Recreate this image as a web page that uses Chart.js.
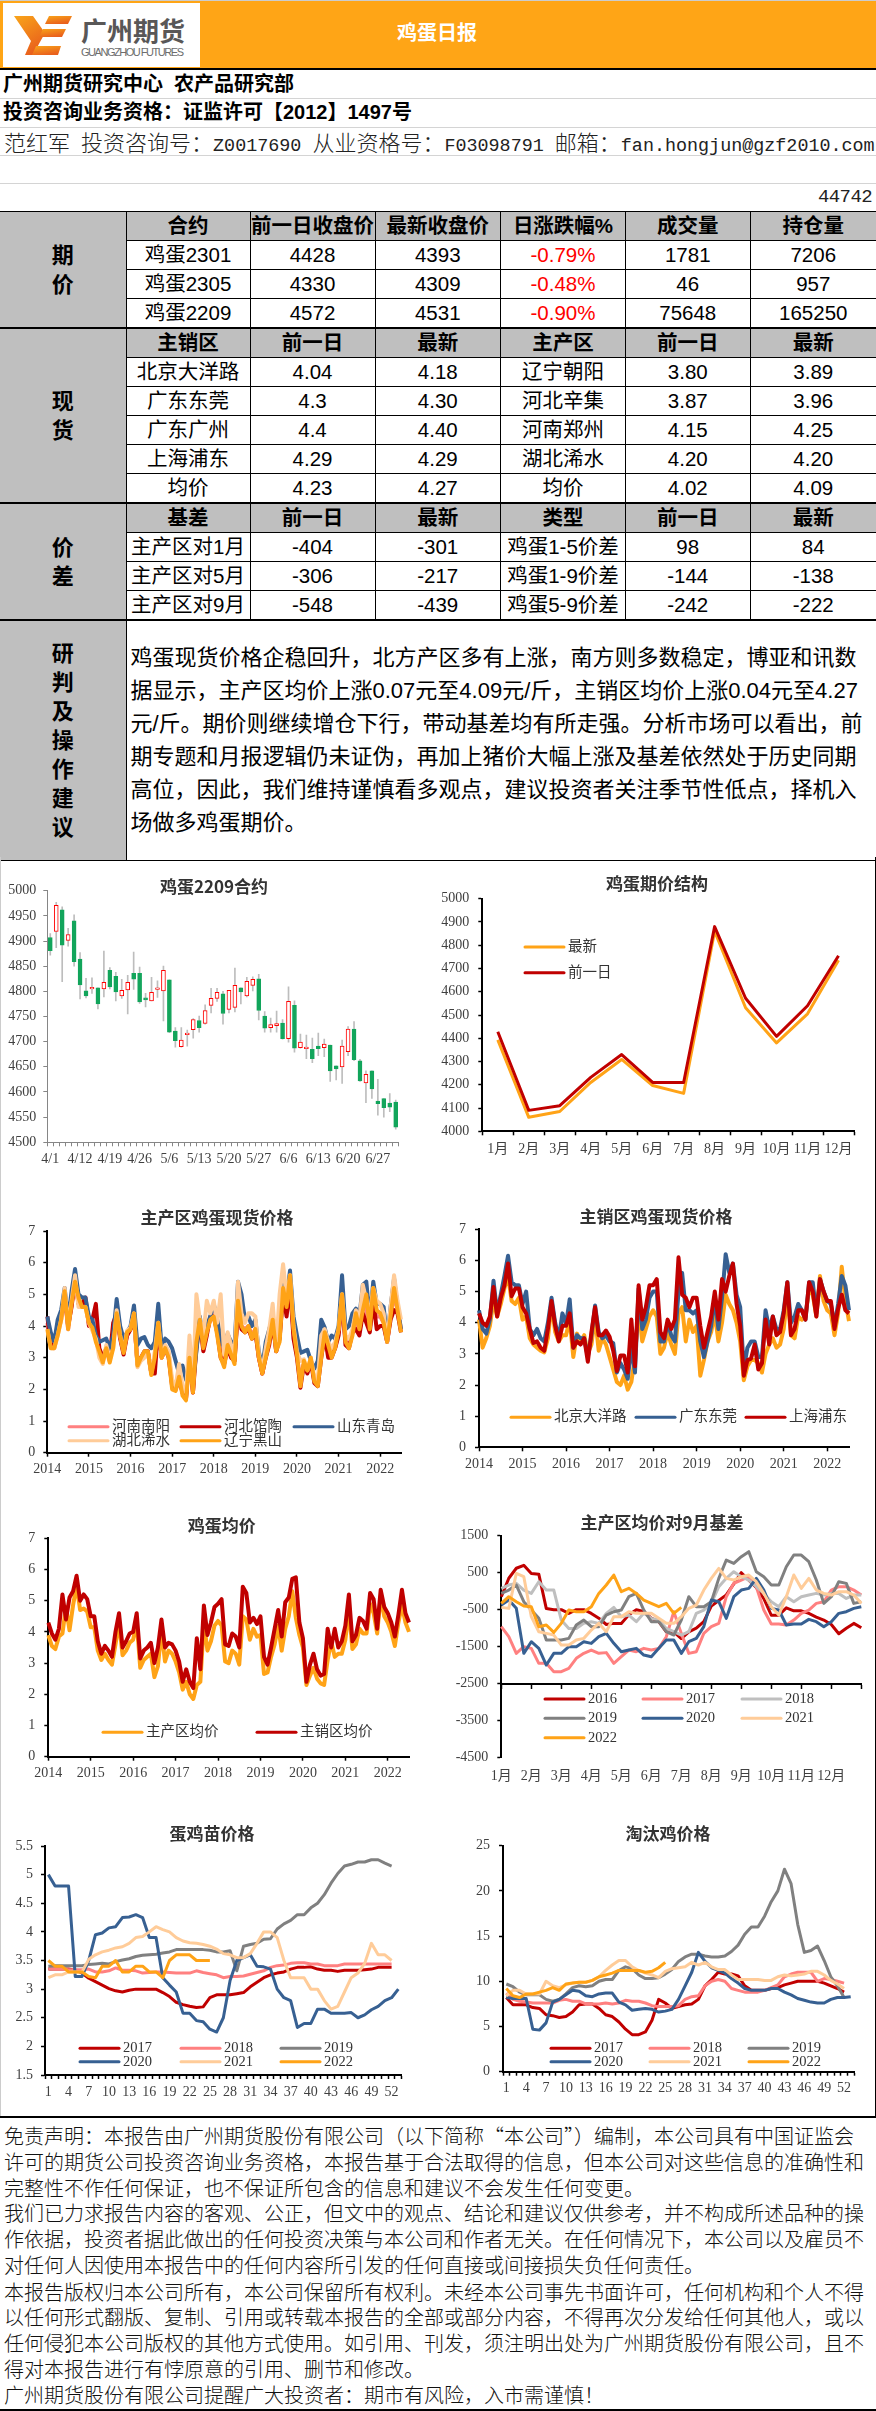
<!DOCTYPE html>
<html lang="zh-CN">
<head>
<meta charset="utf-8">
<title>鸡蛋日报</title>
<script src="https://cdn.jsdelivr.net/npm/chart.js@4"></script>
<style>
html,body{margin:0;padding:0;background:#fff;}
body{position:relative;width:876px;height:2411px;overflow:hidden;color:#000;font-family:'Liberation Sans','Noto Sans CJK SC',sans-serif;}
.abs{position:absolute;white-space:nowrap;}
.band{left:0;width:876px;height:70px;top:0;background:#FFA516;border-top:1px solid #ccc;box-sizing:border-box;border-bottom:2px solid #000;}
.logo{left:3px;top:3px;width:197px;height:64px;background:#fff;}
.rowline{left:0;width:876px;height:1px;background:#d4d4d4;}
.head{left:3px;font-size:20px;line-height:28px;font-weight:700;}
table{position:absolute;left:0;top:211px;width:876px;border-collapse:collapse;table-layout:fixed;font-size:20.5px;}
td{border:1px solid #000;height:29px;padding:0;text-align:center;box-sizing:border-box;line-height:28px;white-space:nowrap;overflow:hidden;}
tr td:first-child{border-left:none;}
tr td:last-child{border-right:none;}
td.g{background:#BFBFBF;font-weight:700;}
td.side{line-height:29px;font-size:22px;}
tr.sec td{border-top:2px solid #000;}
td.red{color:#f00;}
td.note{text-align:left;padding-left:4px;font-size:22px;line-height:33px;}
canvas{position:absolute;}
.legal{left:4px;font-size:20px;line-height:26px;font-family:'Noto Sans CJK SC',sans-serif;font-weight:300;color:#111;}
</style>
</head>
<body>
<div class="abs band"></div>
<div class="abs logo">
<svg width="197" height="64" viewBox="0 0 197 64">
<defs><linearGradient id="lg" x1="0" y1="0" x2="0.5" y2="1"><stop offset="0" stop-color="#F9A51A"/><stop offset="1" stop-color="#E9601C"/></linearGradient></defs>
<polygon fill="url(#lg)" points="11,13 30,13 42,30 37,39 30,52 22,52 28,38"/>
<polygon fill="url(#lg)" points="46,13 69,13 65,21 42,21"/>
<polygon fill="url(#lg)" points="40,26 63,26 59,34 36,34"/>
<polygon fill="url(#lg)" points="33,43 58,43 55,52 29,52"/>
<text x="78" y="38" font-size="26" font-weight="700" fill="#595757" font-family="Noto Sans CJK SC">广州期货</text>
<text x="78" y="53" font-size="11" fill="#6d6d6d" textLength="103" font-family="Liberation Sans">GUANGZHOU FUTURES</text>
</svg>
</div>
<div class="abs" style="left:397px;top:19px;font-size:20px;line-height:28px;font-weight:700;color:#fff;">鸡蛋日报</div>
<div class="abs head" style="top:70px;">广州期货研究中心&nbsp; 农产品研究部</div>
<div class="abs rowline" style="top:98px;"></div>
<div class="abs head" style="top:98px;">投资咨询业务资格：证监许可【2012】1497号</div>
<div class="abs rowline" style="top:127px;"></div>
<div class="abs" style="left:4px;top:127px;font-size:22px;line-height:28px;color:#222;font-weight:300;font-family:'Noto Sans CJK SC',sans-serif;">范红军<span style="font:18.4px 'Liberation Mono'"> </span>投资咨询号：<span style="font:18.4px 'Liberation Mono'">Z0017690 </span>从业资格号：<span style="font:18.4px 'Liberation Mono'">F03098791 </span>邮箱：<span style="font:18.4px 'Liberation Mono'">fan.hongjun@gzf2010.com</span></div>
<div class="abs rowline" style="top:155px;"></div>
<div class="abs rowline" style="top:183px;"></div>
<div class="abs" style="right:4px;top:184px;font:19px/27px 'Liberation Mono';letter-spacing:-0.6px;color:#222;">44742</div>

<table>
<colgroup><col style="width:126px"><col style="width:124px"><col style="width:125px"><col style="width:125.5px"><col style="width:125px"><col style="width:124.5px"><col style="width:126px"></colgroup>
<tr><td class="g side" rowspan="4">期<br>价</td><td class="g">合约</td><td class="g">前一日收盘价</td><td class="g">最新收盘价</td><td class="g">日涨跌幅%</td><td class="g">成交量</td><td class="g">持仓量</td></tr>
<tr><td>鸡蛋2301</td><td>4428</td><td>4393</td><td class="red">-0.79%</td><td>1781</td><td>7206</td></tr>
<tr><td>鸡蛋2305</td><td>4330</td><td>4309</td><td class="red">-0.48%</td><td>46</td><td>957</td></tr>
<tr><td>鸡蛋2209</td><td>4572</td><td>4531</td><td class="red">-0.90%</td><td>75648</td><td>165250</td></tr>
<tr class="sec"><td class="g side" rowspan="6">现<br>货</td><td class="g">主销区</td><td class="g">前一日</td><td class="g">最新</td><td class="g">主产区</td><td class="g">前一日</td><td class="g">最新</td></tr>
<tr><td>北京大洋路</td><td>4.04</td><td>4.18</td><td>辽宁朝阳</td><td>3.80</td><td>3.89</td></tr>
<tr><td>广东东莞</td><td>4.3</td><td>4.30</td><td>河北辛集</td><td>3.87</td><td>3.96</td></tr>
<tr><td>广东广州</td><td>4.4</td><td>4.40</td><td>河南郑州</td><td>4.15</td><td>4.25</td></tr>
<tr><td>上海浦东</td><td>4.29</td><td>4.29</td><td>湖北浠水</td><td>4.20</td><td>4.20</td></tr>
<tr><td>均价</td><td>4.23</td><td>4.27</td><td>均价</td><td>4.02</td><td>4.09</td></tr>
<tr class="sec"><td class="g side" rowspan="4">价<br>差</td><td class="g">基差</td><td class="g">前一日</td><td class="g">最新</td><td class="g">类型</td><td class="g">前一日</td><td class="g">最新</td></tr>
<tr><td>主产区对1月</td><td>-404</td><td>-301</td><td>鸡蛋1-5价差</td><td>98</td><td>84</td></tr>
<tr><td>主产区对5月</td><td>-306</td><td>-217</td><td>鸡蛋1-9价差</td><td>-144</td><td>-138</td></tr>
<tr><td>主产区对9月</td><td>-548</td><td>-439</td><td>鸡蛋5-9价差</td><td>-242</td><td>-222</td></tr>
<tr class="sec"><td class="g side" style="height:240px;">研<br>判<br>及<br>操<br>作<br>建<br>议</td><td class="note" colspan="6">鸡蛋现货价格企稳回升，北方产区多有上涨，南方则多数稳定，博亚和讯数<br>据显示，主产区均价上涨0.07元至4.09元/斤，主销区均价上涨0.04元至4.27<br>元/斤。期价则继续增仓下行，带动基差均有所走强。分析市场可以看出，前<br>期专题和月报逻辑仍未证伪，再加上猪价大幅上涨及基差依然处于历史同期<br>高位，因此，我们维持谨慎看多观点，建议投资者关注季节性低点，择机入<br>场做多鸡蛋期价。</td></tr>
</table>

<canvas id="c1"></canvas><canvas id="c2"></canvas><canvas id="c3"></canvas><canvas id="c4"></canvas>
<canvas id="c5"></canvas><canvas id="c6"></canvas><canvas id="c7"></canvas><canvas id="c8"></canvas>

<div class="abs" style="left:875px;top:857px;width:1px;height:1260px;background:#000;"></div>
<div class="abs" style="left:0;top:857px;width:1px;height:1260px;background:#ccc;"></div>
<div class="abs" style="left:0;top:2116px;width:876px;height:2px;background:#000;"></div>
<div class="abs legal" style="top:2123px;">免责声明：本报告由广州期货股份有限公司（以下简称“本公司”）编制，本公司具有中国证监会</div>
<div class="abs legal" style="top:2149px;">许可的期货公司投资咨询业务资格，本报告基于合法取得的信息，但本公司对这些信息的准确性和</div>
<div class="abs legal" style="top:2175px;">完整性不作任何保证，也不保证所包含的信息和建议不会发生任何变更。</div>
<div class="abs legal" style="top:2200px;">我们已力求报告内容的客观、公正，但文中的观点、结论和建议仅供参考，并不构成所述品种的操</div>
<div class="abs legal" style="top:2226px;">作依据，投资者据此做出的任何投资决策与本公司和作者无关。在任何情况下，本公司以及雇员不</div>
<div class="abs legal" style="top:2252px;">对任何人因使用本报告中的任何内容所引发的任何直接或间接损失负任何责任。</div>
<div class="abs legal" style="top:2279px;">本报告版权归本公司所有，本公司保留所有权利。未经本公司事先书面许可，任何机构和个人不得</div>
<div class="abs legal" style="top:2304px;">以任何形式翻版、复制、引用或转载本报告的全部或部分内容，不得再次分发给任何其他人，或以</div>
<div class="abs legal" style="top:2330px;">任何侵犯本公司版权的其他方式使用。如引用、刊发，须注明出处为广州期货股份有限公司，且不</div>
<div class="abs legal" style="top:2356px;">得对本报告进行有悖原意的引用、删节和修改。</div>
<div class="abs legal" style="top:2382px;">广州期货股份有限公司提醒广大投资者：期市有风险，入市需谨慎！</div>
<div class="abs" style="left:0;top:2409px;width:876px;height:2px;background:#000;"></div>

<script>
// 鸡蛋2209合约 K线
const candleDates = ['4/1','4/6','4/7','4/8','4/11','4/12','4/13','4/14','4/15','4/18','4/19','4/20','4/21','4/22','4/25','4/26','4/27','4/28','4/29','5/5','5/6','5/9','5/10','5/11','5/12','5/13','5/16','5/17','5/18','5/19','5/20','5/23','5/24','5/25','5/26','5/27','5/30','5/31','6/1','6/2','6/6','6/7','6/8','6/9','6/10','6/13','6/14','6/15','6/16','6/17','6/20','6/21','6/22','6/23','6/24','6/27','6/28','6/29','6/30'];
const candleOpen = [4907,4919,4962,4901,4940,4864,4801,4805,4807,4805,4842,4830,4791,4803,4836,4836,4787,4781,4804,4801,4823,4721,4690,4714,4724,4742,4736,4772,4786,4795,4764,4768,4807,4791,4812,4825,4751,4728,4732,4737,4706,4772,4688,4686,4685,4691,4688,4693,4652,4650,4680,4725,4662,4618,4642,4582,4587,4578,4580];
const candleClose = [4881,4971,4892,4913,4859,4813,4791,4808,4775,4818,4809,4799,4802,4818,4824,4779,4783,4798,4807,4842,4719,4702,4703,4717,4744,4728,4762,4786,4798,4756,4802,4812,4799,4820,4824,4762,4727,4734,4736,4706,4780,4687,4699,4689,4666,4686,4695,4642,4646,4691,4725,4664,4622,4635,4606,4577,4569,4570,4530];
const candleHigh = [4915,4977,4968,4925,4952,4877,4826,4827,4807,4880,4847,4838,4824,4832,4878,4848,4796,4828,4821,4850,4823,4728,4728,4723,4746,4751,4773,4806,4806,4800,4802,4846,4807,4828,4829,4834,4760,4747,4761,4744,4809,4781,4715,4713,4707,4717,4705,4693,4652,4703,4730,4740,4665,4642,4642,4625,4587,4597,4584];
const candleLow = [4872,4887,4819,4890,4850,4785,4787,4796,4765,4789,4805,4781,4786,4755,4804,4776,4769,4781,4788,4741,4718,4689,4689,4691,4707,4719,4735,4757,4780,4735,4757,4759,4775,4789,4801,4743,4719,4719,4719,4705,4699,4679,4687,4666,4658,4672,4670,4621,4624,4617,4672,4662,4621,4579,4587,4554,4550,4561,4526];

// 鸡蛋期价结构
const curveMonths = ['1月','2月','3月','4月','5月','6月','7月','8月','9月','10月','11月','12月'];
const curveLatest = [4393,4060,4085,4210,4309,4197,4163,4860,4531,4380,4505,4735];
const curvePrev = [4428,4090,4110,4232,4330,4210,4210,4880,4572,4408,4540,4755];

// 现货价格 月度横轴 2014-01 ~ 2022-07
const spotYears = ['2014','2015','2016','2017','2018','2019','2020','2021','2022'];
const spotAxis = spotYears.flatMap(y => Array(12).fill(y)).slice(0, 103);

// 主产区鸡蛋现货价格
const henanNanyang = [
 4.1,3.4,3.3,3.8,4.2,5.0,3.9,4.7,5.4,4.7,4.6,4.7,
 4.1,4.0,3.6,3.2,2.9,3.3,2.9,3.6,4.4,3.7,3.2,3.7,
 3.9,4.3,2.8,3.0,3.1,3.2,2.5,2.9,4.0,3.0,3.3,3.1,
 2.2,2.0,2.4,1.9,1.7,3.2,1.9,3.6,4.1,3.4,3.8,4.2,
 4.4,3.9,3.2,2.9,3.5,3.1,2.9,4.7,4.0,3.9,4.0,3.7,
 3.9,3.0,2.5,3.1,3.6,4.2,3.2,3.7,5.1,4.5,5.4,3.8,
 3.1,2.2,2.8,2.6,2.9,2.3,2.2,3.2,3.7,3.2,3.1,3.3,
 3.8,4.9,3.5,3.4,3.8,4.2,3.8,4.6,4.5,3.9,5.0,4.3,
 4.3,4.1,3.5,4.3,5.0,4.5,3.9];
const hebeiGuantao = [
 4.3,3.4,3.4,3.9,4.3,5.0,4.0,4.6,5.5,4.7,4.7,4.9,
 4.0,4.2,4.7,3.3,3.0,3.3,3.0,4.1,4.4,3.6,3.1,3.7,
 3.9,4.3,2.8,3.0,3.2,3.2,2.5,2.5,4.0,3.0,3.3,3.0,
 2.1,2.0,2.3,1.9,1.7,3.1,1.9,3.3,4.1,3.2,3.7,4.3,
 4.3,3.8,3.0,2.8,3.3,3.0,2.9,4.5,3.9,3.8,3.9,3.6,
 3.8,3.0,2.5,3.0,3.4,4.1,3.2,3.6,5.0,4.3,5.3,3.6,
 3.0,2.05,2.8,2.5,2.9,2.2,2.1,3.0,3.7,3.0,3.0,3.3,
 3.7,4.9,3.4,3.3,3.8,3.9,3.7,4.4,4.1,3.8,4.8,3.9,
 4.0,4.0,3.5,4.2,4.5,4.4,3.8];
const shandongQingdao = [
 4.3,3.8,3.5,4.2,4.5,5.2,4.2,5.1,5.8,5.0,4.9,4.9,
 4.3,4.2,3.7,3.5,3.55,3.6,3.3,3.7,4.85,4.0,3.6,3.8,
 4.0,4.65,3.4,3.6,3.65,3.4,3.3,3.5,4.7,3.3,3.6,3.5,
 3.3,2.9,2.5,2.75,2.3,2.5,2.2,3.2,4.3,3.4,4.0,4.3,
 4.7,4.2,3.6,3.3,3.75,3.5,3.4,5.4,5.0,4.2,4.3,4.0,
 4.2,3.2,2.7,3.5,3.9,4.3,3.6,4.0,5.4,4.9,5.75,4.3,
 3.7,3.15,3.2,3.25,2.9,2.65,2.9,4.2,3.95,3.5,3.7,3.6,
 4.0,5.6,3.9,4.0,4.4,4.55,4.3,5.3,5.4,4.2,5.4,4.7,
 4.7,4.6,3.6,4.6,5.5,4.6,3.9];
const hubeiXishui = [
 3.9,3.3,3.3,3.7,4.2,5.2,4.0,4.8,5.6,4.6,4.6,4.6,
 4.1,3.85,3.6,3.0,2.8,3.4,3.0,3.3,4.5,3.7,3.2,3.85,
 3.95,4.4,2.7,2.9,3.0,3.15,2.5,3.2,4.1,3.0,3.4,3.2,
 2.3,2.1,2.8,2.1,1.9,3.7,2.1,5.0,4.2,3.7,4.8,4.4,
 4.8,4.1,5.0,3.1,3.8,3.4,3.1,5.4,4.4,4.1,4.4,4.4,
 4.3,3.1,2.6,3.3,3.9,4.7,3.3,5.0,5.95,4.9,5.6,4.0,
 3.2,2.9,2.95,2.6,3.0,2.4,2.3,3.7,3.9,3.5,3.3,3.5,
 3.9,5.0,3.7,3.6,3.9,4.5,4.2,5.3,4.8,4.4,5.2,4.8,
 4.7,4.4,3.5,4.6,5.6,4.8,4.2];
const liaoningHeishan = [
 3.9,3.3,3.3,3.7,4.2,5.1,3.9,4.7,5.4,4.9,4.6,4.6,
 4.1,3.95,3.5,3.2,2.85,3.3,2.85,3.3,4.4,3.7,3.15,3.8,
 3.9,4.4,2.75,3.0,3.2,3.2,2.45,3.0,4.1,3.0,3.3,3.0,
 2.0,1.95,2.4,1.8,1.65,3.0,1.9,3.5,4.2,3.3,3.8,4.2,
 4.3,3.7,3.0,2.7,3.4,3.1,2.8,4.8,4.0,3.8,4.0,3.6,
 3.9,3.0,2.5,3.0,3.5,4.2,3.2,3.5,5.2,4.6,5.6,3.9,
 3.1,2.1,2.9,2.6,3.0,2.25,2.1,3.0,3.8,3.4,3.0,3.3,
 3.9,5.0,3.5,3.3,3.7,4.4,3.9,4.5,5.0,3.9,5.2,4.5,
 4.4,4.1,3.5,4.3,5.2,4.5,3.8];

// 主销区鸡蛋现货价格
const beijingDayanglu = [
 4.1,3.2,3.5,3.9,4.7,4.2,4.6,5.1,5.5,4.7,4.6,4.8,
 4.1,4.2,3.5,3.3,3.2,3.1,3.05,3.5,4.6,3.7,3.4,3.6,
 3.6,4.1,2.9,3.65,3.4,3.6,3.0,3.3,4.2,3.1,3.5,3.3,
 2.9,2.5,2.1,2.0,2.3,1.85,2.1,2.9,4.5,3.4,3.8,4.2,
 4.4,4.2,3.0,3.2,3.7,3.3,3.0,4.3,4.5,3.4,4.1,3.7,
 3.9,2.3,2.8,3.4,3.7,4.3,3.4,4.0,4.9,4.6,4.4,4.0,
 3.4,2.15,2.6,2.8,2.8,2.7,2.4,3.0,3.3,3.5,3.2,3.3,
 3.8,4.9,3.6,3.5,4.2,4.1,4.2,5.1,4.9,4.2,5.5,4.7,
 4.4,4.3,3.6,4.3,5.8,4.7,4.05];
const guangdongDongguan = [
 4.4,3.8,3.65,4.1,5.35,4.3,4.9,5.5,6.15,5.3,5.2,5.2,
 4.6,5.0,3.8,3.6,3.8,3.5,3.4,4.0,4.8,4.0,3.5,4.3,
 3.95,4.75,3.2,3.6,3.5,3.5,2.9,3.6,4.55,3.7,3.5,3.6,
 3.4,3.35,2.4,2.7,2.5,2.2,3.2,2.4,5.1,3.8,4.1,4.8,
 5.0,5.0,3.4,3.4,4.0,3.6,3.4,5.0,5.6,4.4,4.4,4.3,
 4.4,3.4,2.9,3.4,3.9,4.8,3.8,4.8,6.2,5.6,5.9,4.9,
 4.5,2.5,3.2,3.4,3.4,2.9,2.9,4.4,3.8,4.2,3.8,3.8,
 4.4,5.3,4.0,4.2,4.6,4.4,4.1,5.3,5.3,4.3,5.4,5.0,
 4.7,4.6,3.9,4.6,5.5,5.2,4.4];
const shanghaiPudong = [
 4.3,4.0,3.9,4.2,5.15,4.2,4.8,5.2,5.9,4.85,5.1,5.1,
 4.5,4.3,3.8,3.35,3.4,3.2,3.1,3.8,4.7,3.9,3.4,3.9,
 3.9,4.3,3.2,3.4,3.3,3.5,2.75,3.7,4.5,3.6,3.6,3.75,
 3.55,3.1,2.45,2.95,2.95,2.4,4.1,2.6,5.2,4.1,4.5,5.2,
 5.2,5.4,3.7,3.5,4.1,3.8,4.1,6.1,4.9,4.8,4.5,4.8,
 4.8,3.9,3.2,3.7,4.2,5.0,4.1,5.4,5.0,5.5,5.9,4.6,
 3.9,2.3,2.8,2.85,3.3,2.5,2.7,4.1,3.3,4.2,3.6,3.7,
 4.3,5.3,3.6,3.8,4.4,4.4,4.1,5.3,5.0,4.2,5.4,5.0,
 4.7,4.7,3.8,4.45,4.9,4.4,4.3];

// 鸡蛋均价
const producerAvg = [
 3.9,3.55,3.45,3.85,3.95,4.8,4.05,4.85,5.5,4.7,4.75,4.65,
 4.15,4.15,3.4,3.1,3.3,3.1,2.95,3.6,4.3,3.25,3.4,3.65,
 3.75,4.3,2.85,3.1,3.2,3.3,2.55,2.9,4.05,3.05,3.4,3.3,
 3.05,2.7,2.15,2.4,2.0,1.85,2.3,2.4,4.3,3.4,3.7,4.2,
 4.35,4.2,3.05,3.0,3.4,3.3,2.95,4.5,4.4,3.75,4.1,3.85,
 3.9,2.65,2.7,3.2,3.6,4.2,3.4,4.1,4.5,5.3,4.45,3.9,
 3.5,2.3,2.6,2.85,2.5,2.35,2.3,3.1,3.7,3.2,3.3,3.3,
 3.75,4.7,3.45,3.6,4.1,3.95,3.95,4.9,4.6,3.95,5.15,4.5,
 4.3,4.0,3.55,4.3,4.85,4.3,4.0];
const consumerAvg = [
 4.3,3.95,3.75,4.1,5.2,4.4,5.1,5.3,5.8,5.0,5.2,5.05,
 4.5,4.5,3.7,3.3,3.55,3.4,3.2,4.0,4.6,3.5,3.7,3.95,
 4.0,4.6,3.15,3.4,3.5,3.65,3.0,3.5,4.4,3.5,3.65,3.6,
 3.4,3.05,2.4,2.8,2.4,2.2,3.8,2.8,4.85,3.9,4.3,4.8,
 4.9,5.05,3.6,3.55,3.95,3.85,3.5,5.45,5.25,4.3,4.45,4.25,
 4.5,3.2,2.95,3.5,4.1,4.7,3.85,4.95,5.1,5.7,5.75,4.3,
 3.8,2.4,2.95,3.3,2.8,2.6,2.65,4.1,3.5,4.1,3.5,3.7,
 4.2,5.2,3.7,3.9,4.45,4.35,4.1,5.25,5.05,4.1,5.35,4.8,
 4.6,4.3,3.85,4.55,5.35,4.6,4.3];

// 主产区均价对9月基差
const basisAxis = ['1月','','','','2月','','','','3月','','','','4月','','','','5月','','','','6月','','','','7月','','','','8月','','','','9月','','','','10月','','','','11月','','','','12月','','','',''];
const basis2016 = [-150,350,620,700,480,460,-470,-500,-500,-600,-500,-500,-600,-730,-900,-870,-870,-640,-500,-550,-730,-820,-1100,-1100,-1280,-1100,-1000,-820,-400,-250,-100,200,500,300,100,-200,-650,-650,-450,-530,-530,-600,-700,-780,-900,-1150,-1000,-870,-990];
const basis2017 = [-960,-1230,-1680,-1500,-1545,-1950,-1950,-2175,-2175,-2085,-1815,-1680,-1590,-1680,-1660,-1950,-1770,-1590,-1635,-1545,-1590,-1545,-1230,-554,-1140,-1680,-1635,-1140,-959,-869,-149,212,302,392,122,-509,-887,-887,-914,-779,-599,-509,-329,-284,31,122,122,31,-104];
const basis2018 = [77,167,212,31,-59,257,31,31,-779,-1005,-1005,-869,-824,-869,-599,-437,-689,-644,-824,-599,-734,-779,-1005,-1095,-1185,-1095,-599,-509,-329,122,347,527,392,302,122,-59,-284,-419,-149,-284,-149,-104,-59,-104,-59,-59,-194,-104,-104];
const basis2019 = [-59,31,167,-284,-509,-734,-1320,-1320,-1320,-1275,-914,-779,-959,-959,-644,-554,-509,-149,-59,-509,-824,-824,-1095,-1185,-779,-149,-419,-419,-284,347,842,752,932,1068,527,392,167,167,662,977,977,797,302,-329,-149,257,212,-329,-284];
const basis2020 = [-374,-239,-464,-1680,-1365,-1545,-1995,-1680,-1680,-1500,-1500,-1365,-1410,-1230,-1140,-1410,-1635,-1590,-1545,-1725,-1770,-1545,-1320,-1320,-1680,-1365,-1275,-959,-239,-284,-734,-149,31,77,347,31,-464,-509,-914,-887,-887,-761,-824,-959,-824,-599,-554,-464,-419];
const basis2021 = [-437,-464,482,392,-689,-1095,-1140,-1185,-1455,-1455,-1320,-1275,-1050,-869,-1095,-689,-689,-554,-599,-599,-599,-734,-869,-869,-689,-464,-374,31,347,617,347,302,392,437,257,-59,-419,-644,-149,437,77,347,31,-59,-104,-14,-14,-104,-329];
const basis2022 = [-329,-149,-284,-401,-419,-959,-914,-1113,-869,-509,-554,-554,-419,-59,167,437,-14,77,-59,-239,-329,-419,-329,-599,-437];

// 周度横轴 1~53
const weekAxis = ['1','2','3','4','5','6','7','8','9','10','11','12','13','14','15','16','17','18','19','20','21','22','23','24','25','26','27','28','29','30','31','32','33','34','35','36','37','38','39','40','41','42','43','44','45','46','47','48','49','50','51','52','53'];

// 蛋鸡苗价格
const chick2017 = [3.35,3.35,3.35,3.35,3.33,3.28,3.19,3.13,3.07,3.01,2.97,2.95,2.98,3.0,3.0,3.0,3.0,2.94,2.87,2.77,2.73,2.7,2.68,2.69,2.85,2.9,2.9,2.9,2.92,2.94,3.04,3.12,3.2,3.25,3.28,3.3,3.35,3.38,3.38,3.39,3.35,3.33,3.33,3.31,3.33,3.33,3.33,3.34,3.35,3.38,3.38,3.38];
const chick2018 = [3.36,3.35,3.35,3.34,3.34,3.34,3.35,3.3,3.3,3.32,3.37,3.33,3.33,3.32,3.28,3.29,3.3,3.3,3.29,3.28,3.28,3.28,3.32,3.29,3.27,3.25,3.2,3.22,3.22,3.23,3.26,3.29,3.32,3.38,3.41,3.42,3.45,3.46,3.46,3.44,3.44,3.41,3.41,3.41,3.44,3.44,3.44,3.44,3.44,3.44,3.44,3.44];
const chick2019 = [3.4,3.41,3.41,3.41,3.41,3.41,3.43,3.44,3.45,3.44,3.48,3.51,3.53,3.57,3.59,3.6,3.61,3.63,3.65,3.69,3.69,3.69,3.69,3.69,3.68,3.65,3.65,3.67,3.32,3.75,3.78,3.8,3.87,3.88,4.05,4.14,4.2,4.3,4.3,4.42,4.5,4.65,4.85,5.02,5.15,5.18,5.22,5.22,5.26,5.26,5.2,5.15];
const chick2020 = [5.0,4.8,4.8,4.8,3.22,3.22,3.5,3.95,3.98,4.07,4.09,4.25,4.26,4.3,4.25,3.9,3.9,3.2,3.07,2.95,2.58,2.58,2.45,2.43,2.3,2.25,2.5,3.15,3.5,3.55,3.6,3.4,3.39,3.35,3.0,2.85,2.8,2.33,2.4,2.4,2.65,2.65,2.58,2.58,2.58,2.59,2.5,2.55,2.64,2.7,2.8,2.85,3.0];
const chick2021 = [3.2,3.25,3.25,3.3,3.3,3.3,3.52,3.6,3.65,3.68,3.72,3.74,3.8,3.9,3.92,4.0,4.09,4.04,4.0,3.9,3.84,3.81,3.8,3.78,3.75,3.7,3.62,3.6,3.55,3.55,3.62,3.8,4.0,4.0,3.9,3.5,3.2,3.2,3.2,3.0,3.0,2.8,2.65,2.7,2.95,3.2,3.28,3.45,3.8,3.6,3.6,3.5];
const chick2022 = [3.5,3.4,3.4,3.3,3.3,3.3,3.22,3.2,3.4,3.4,3.5,3.3,3.3,3.4,3.4,3.3,3.3,3.2,3.5,3.6,3.6,3.6,3.5,3.5,3.5];

// 淘汰鸡价格
const hen2017 = [8.2,7.4,7.4,7.4,7.1,7.0,6.3,6.2,6.0,6.1,6.6,7.4,7.5,7.5,7.0,6.3,6.1,5.5,4.7,4.1,4.1,4.4,5.7,8.0,7.6,7.0,7.2,7.4,7.5,8.0,9.5,10.2,11.0,10.8,10.8,10.6,9.5,9.0,9.0,9.0,9.2,9.3,9.6,9.8,10.0,10.0,10.0,10.0,9.8,9.5,9.2,8.8];
const hen2018 = [8.7,8.0,7.8,7.7,7.6,7.6,7.6,7.6,7.9,8.0,7.8,7.8,7.5,7.5,7.5,7.6,7.5,7.6,7.9,7.8,7.8,7.6,7.3,7.2,7.2,7.2,7.3,8.0,8.3,8.4,9.5,10.0,10.2,10.0,9.2,9.0,8.8,8.8,8.8,9.0,9.3,9.6,10.5,10.8,11.0,11.0,11.0,10.0,10.3,10.2,10.0,9.8];
const hen2019 = [9.7,9.4,8.8,8.5,8.5,8.5,8.0,7.8,8.0,8.6,9.3,9.5,9.4,9.5,10.0,10.2,10.2,11.2,11.6,11.4,10.7,10.3,10.3,10.4,10.8,11.3,12.2,12.7,13.0,13.0,12.8,12.7,12.7,12.8,13.3,14.0,15.2,16.0,16.0,17.2,18.8,20.0,22.4,20.8,16.3,13.2,13.4,13.9,12.3,10.5,9.5,8.2];
const hen2020 = [8.2,8.1,8.1,8.1,4.7,4.6,5.4,7.7,8.0,8.5,9.0,8.9,8.4,8.3,8.6,8.7,8.7,7.7,7.4,6.8,6.9,7.0,6.9,6.6,6.7,6.9,8.0,9.5,11.0,13.2,12.2,11.5,11.2,10.9,10.3,9.8,9.2,9.0,9.0,9.0,9.2,9.2,8.8,8.5,8.1,7.9,7.7,7.6,7.6,8.0,8.2,8.2,8.3];
const hen2021 = [8.4,9.0,9.0,8.6,8.6,8.6,10.0,9.5,9.3,9.6,9.8,9.9,9.9,10.1,10.5,11.2,11.8,12.3,12.3,11.6,11.2,10.9,10.7,10.4,11.1,11.4,11.5,11.6,12.1,11.8,12.1,11.6,11.3,11.3,10.7,10.2,10.2,10.2,10.2,10.1,10.1,10.5,10.7,10.6,10.7,10.8,11.1,11.1,10.7,10.1,9.7,9.2];
const hen2022 = [9.2,8.4,8.2,8.6,8.6,8.8,9.0,9.3,9.0,9.7,9.8,9.9,9.9,10.1,10.5,10.7,10.9,11.2,11.2,11.2,11.2,11.0,11.1,11.5,12.1];

const RED = '#C00000', ORANGE = '#FFA317', BLUE = '#376092', PINK = '#FF8080', PEACH = '#FFCC99', GREY = '#808080', LIGHT = '#BFBFBF';
const serif = "'Liberation Serif','Noto Sans CJK SC',serif";
const labelFont = { family: serif, size: 14 };

// 标题和图例都画在canvas里，位置按页面坐标给
const overlay = {
  id: 'overlay',
  afterDraw(chart, args, opts) {
    const ctx = chart.ctx;
    ctx.save();
    ctx.fillStyle = '#333';
    ctx.font = "700 17px 'Noto Sans CJK SC'";
    ctx.textAlign = 'center';
    ctx.textBaseline = 'middle';
    ctx.fillText(opts.title, opts.titleX - opts.ox, opts.titleY - opts.oy);
    ctx.textAlign = 'left';
    ctx.font = "14.5px " + serif;
    ctx.lineWidth = 3;
    ctx.lineCap = 'round';
    opts.items.forEach(it => {
      const x = it.x - opts.ox, y = it.y - opts.oy;
      ctx.strokeStyle = it.color;
      ctx.beginPath();
      ctx.moveTo(x, y);
      ctx.lineTo(x + 39, y);
      ctx.stroke();
      ctx.fillStyle = '#333';
      ctx.fillText(it.label, x + 43, y);
    });
    ctx.restore();
  }
};
Chart.register(overlay);

function lineSet(label, data, color, order, width) {
  return { label, data, borderColor: color, backgroundColor: color, borderWidth: width || 3, pointRadius: 0, tension: 0, fill: false, order, borderJoinStyle: 'round', spanGaps: false };
}

function baseOptions(cfg) {
  const { box, plot } = cfg;
  const axisColor = cfg.axisColor || '#000';
  const axisWidth = cfg.axisWidth || 2;
  const xScale = {
    type: 'category',
    offset: !!cfg.offset,
    border: { color: axisColor, width: axisWidth },
    grid: { drawOnChartArea: false, drawTicks: true, tickLength: 4, tickColor: axisColor, tickWidth: axisWidth > 1.5 ? 1.5 : 1, offset: !!cfg.offset },
    ticks: { font: labelFont, color: '#404040', padding: cfg.xPad, maxRotation: 0, autoSkip: false },
    afterFit: a => { a.height = box.y + box.h - plot.b; }
  };
  if (cfg.tickStep) xScale.afterBuildTicks = a => { a.ticks = a.ticks.filter(t => t.value % cfg.tickStep === 0); };
  if (cfg.labelStep) xScale.ticks.callback = function (v, i) { return i % cfg.labelStep === 0 ? this.getLabelForValue(v) : ''; };
  return {
    responsive: false,
    animation: false,
    layout: { padding: { top: plot.t - box.y, right: box.x + box.w - plot.r, bottom: 0, left: 0 } },
    plugins: {
      legend: { display: false },
      tooltip: { enabled: false },
      overlay: { title: cfg.title, titleX: cfg.titleX, titleY: cfg.titleY, items: cfg.items || [], ox: box.x, oy: box.y }
    },
    scales: {
      x: xScale,
      y: {
        min: cfg.yMin, max: cfg.yMax,
        border: { color: axisColor, width: axisWidth },
        grid: { drawOnChartArea: false, drawTicks: true, tickLength: 4, tickColor: axisColor, tickWidth: axisWidth > 1.5 ? 1.5 : 1 },
        ticks: { stepSize: cfg.yStep, font: labelFont, color: '#404040', padding: cfg.yPad, callback: v => String(v) },
        afterFit: a => { a.width = plot.l - box.x; }
      }
    }
  };
}

function mount(id, cfg, type, labels, datasets, tweak) {
  const c = document.getElementById(id);
  c.width = cfg.box.w;
  c.height = cfg.box.h;
  c.style.left = cfg.box.x + 'px';
  c.style.top = cfg.box.y + 'px';
  const options = baseOptions(cfg);
  if (tweak) tweak(options);
  return new Chart(c.getContext('2d'), { type, data: { labels, datasets }, options });
}

// 图1 K线：影线和实体各一组浮动柱
const candleCfg = {
  box: { x: 1, y: 860, w: 437, h: 320 }, plot: { l: 47.3, t: 890.7, r: 398.7, b: 1142.3 },
  title: '鸡蛋2209合约', titleX: 214, titleY: 887, offset: true, labelStep: 5,
  axisColor: '#868686', axisWidth: 1, xPad: 5, yPad: 7, yMin: 4500, yMax: 5000, yStep: 50
};
mount('c1', candleCfg, 'bar', candleDates, [
  { label: '影线', data: candleLow.map((l, i) => [l, candleHigh[i]]), backgroundColor: '#BDBDBD', barThickness: 1, grouped: false, order: 2 },
  { label: '实体', data: candleOpen.map((o, i) => [o, candleClose[i]]), grouped: false, order: 1, barThickness: 4, borderSkipped: false,
    backgroundColor: candleOpen.map((o, i) => candleClose[i] > o ? '#fff' : '#12A55B'),
    borderColor: candleOpen.map((o, i) => candleClose[i] > o ? '#f00' : '#12A55B'), borderWidth: 1 }
]);

// 图2
mount('c2', {
  box: { x: 438, y: 860, w: 437, h: 320 }, plot: { l: 482.3, t: 898.7, r: 854, b: 1131.3 },
  title: '鸡蛋期价结构', titleX: 657, titleY: 884, offset: true, xPad: 6, yPad: 9, yMin: 4000, yMax: 5000, yStep: 100,
  items: [{ label: '最新', color: ORANGE, x: 525, y: 947 }, { label: '前一日', color: RED, x: 525, y: 972.7 }]
}, 'line', curveMonths, [lineSet('最新', curveLatest, ORANGE, 2), lineSet('前一日', curvePrev, RED, 1)]);

// 图3
mount('c3', {
  box: { x: 1, y: 1190, w: 437, h: 305 }, plot: { l: 47.3, t: 1231, r: 401, b: 1452.7 },
  title: '主产区鸡蛋现货价格', titleX: 217, titleY: 1218, tickStep: 12, xPad: 4, yPad: 8, yMin: 0, yMax: 7, yStep: 1,
  items: [
    { label: '河南南阳', color: PINK, x: 69, y: 1426.7 }, { label: '河北馆陶', color: RED, x: 181, y: 1426.7 }, { label: '山东青岛', color: BLUE, x: 294, y: 1426.7 },
    { label: '湖北浠水', color: PEACH, x: 69, y: 1440.7 }, { label: '辽宁黑山', color: ORANGE, x: 181, y: 1440.7 }
  ]
}, 'line', spotAxis, [
  lineSet('河南南阳', henanNanyang, PINK, 5, 4), lineSet('河北馆陶', hebeiGuantao, RED, 4, 4), lineSet('山东青岛', shandongQingdao, BLUE, 3, 4),
  lineSet('湖北浠水', hubeiXishui, PEACH, 2, 4), lineSet('辽宁黑山', liaoningHeishan, ORANGE, 1, 4)
]);

// 图4
mount('c4', {
  box: { x: 438, y: 1190, w: 437, h: 305 }, plot: { l: 479, t: 1229.3, r: 849, b: 1447.3 },
  title: '主销区鸡蛋现货价格', titleX: 656, titleY: 1217, tickStep: 12, xPad: 5, yPad: 9, yMin: 0, yMax: 7, yStep: 1,
  items: [{ label: '北京大洋路', color: ORANGE, x: 511, y: 1417.3 }, { label: '广东东莞', color: BLUE, x: 636, y: 1417.3 }, { label: '上海浦东', color: RED, x: 746, y: 1417.3 }]
}, 'line', spotAxis, [lineSet('北京大洋路', beijingDayanglu, ORANGE, 3, 4), lineSet('广东东莞', guangdongDongguan, BLUE, 2, 4), lineSet('上海浦东', shanghaiPudong, RED, 1, 4)]);

// 图5
mount('c5', {
  box: { x: 1, y: 1500, w: 437, h: 310 }, plot: { l: 48.3, t: 1538.3, r: 409, b: 1756.7 },
  title: '鸡蛋均价', titleX: 221.7, titleY: 1526, tickStep: 12, xPad: 4, yPad: 9, yMin: 0, yMax: 7, yStep: 1,
  items: [{ label: '主产区均价', color: ORANGE, x: 103, y: 1732.3 }, { label: '主销区均价', color: RED, x: 257, y: 1732.3 }]
}, 'line', spotAxis, [lineSet('主产区均价', producerAvg, ORANGE, 2, 4), lineSet('主销区均价', consumerAvg, RED, 1, 4)]);

// 图6 横轴线压在-2500，月份标签放最下面
mount('c6', {
  box: { x: 438, y: 1500, w: 437, h: 310 }, plot: { l: 501.3, t: 1535.7, r: 861.3, b: 1757.7 },
  title: '主产区均价对9月基差', titleX: 662, titleY: 1523, tickStep: 4, xPad: 10, yPad: 9, yMin: -4500, yMax: 1500, yStep: 1000,
  items: [
    { label: '2016', color: RED, x: 545, y: 1699 }, { label: '2017', color: PINK, x: 643, y: 1699 }, { label: '2018', color: LIGHT, x: 742, y: 1699 },
    { label: '2019', color: GREY, x: 545, y: 1718.3 }, { label: '2020', color: BLUE, x: 643, y: 1718.3 }, { label: '2021', color: PEACH, x: 742, y: 1718.3 },
    { label: '2022', color: ORANGE, x: 545, y: 1737.7 }
  ]
}, 'line', basisAxis, [
  lineSet('2016', basis2016, RED, 7), lineSet('2017', basis2017, PINK, 6), lineSet('2018', basis2018, LIGHT, 5), lineSet('2019', basis2019, GREY, 4),
  lineSet('2020', basis2020, BLUE, 3), lineSet('2021', basis2021, PEACH, 2), lineSet('2022', basis2022, ORANGE, 1)
], o => {
  o.scales.x.border = { display: false };
  o.scales.x.grid = { display: false, drawTicks: false };
  o.scales.x2 = {
    type: 'category', axis: 'x', position: { y: -2500 },
    labels: basisAxis,
    border: { color: '#000', width: 2 },
    grid: { drawOnChartArea: false, drawTicks: true, tickLength: 4, tickColor: '#000', tickWidth: 1.5 },
    ticks: { display: false, autoSkip: false },
    afterBuildTicks: a => { a.ticks = a.ticks.filter(t => t.value % 4 === 0); }
  };
});

// 图7
mount('c7', {
  box: { x: 1, y: 1810, w: 437, h: 305 }, plot: { l: 45, t: 1846, r: 401.7, b: 2075 },
  title: '蛋鸡苗价格', titleX: 212, titleY: 1834, offset: true, labelStep: 3, xPad: 5, yPad: 8, yMin: 1.5, yMax: 5.5, yStep: 0.5,
  items: [
    { label: '2017', color: RED, x: 80, y: 2048.3 }, { label: '2018', color: PINK, x: 181, y: 2048.3 }, { label: '2019', color: GREY, x: 281, y: 2048.3 },
    { label: '2020', color: BLUE, x: 80, y: 2061.7 }, { label: '2021', color: PEACH, x: 181, y: 2061.7 }, { label: '2022', color: ORANGE, x: 281, y: 2061.7 }
  ]
}, 'line', weekAxis, [
  lineSet('2017', chick2017, RED, 6), lineSet('2018', chick2018, PINK, 5), lineSet('2019', chick2019, GREY, 4),
  lineSet('2020', chick2020, BLUE, 3), lineSet('2021', chick2021, PEACH, 2), lineSet('2022', chick2022, ORANGE, 1)
]);

// 图8
mount('c8', {
  box: { x: 438, y: 1810, w: 437, h: 305 }, plot: { l: 503, t: 1845.7, r: 854, b: 2071.7 },
  title: '淘汰鸡价格', titleX: 668, titleY: 1834, offset: true, labelStep: 3, xPad: 4, yPad: 9, yMin: 0, yMax: 25, yStep: 5,
  items: [
    { label: '2017', color: RED, x: 551, y: 2048.3 }, { label: '2018', color: PINK, x: 650, y: 2048.3 }, { label: '2019', color: GREY, x: 749, y: 2048.3 },
    { label: '2020', color: BLUE, x: 551, y: 2061.7 }, { label: '2021', color: PEACH, x: 650, y: 2061.7 }, { label: '2022', color: ORANGE, x: 749, y: 2061.7 }
  ]
}, 'line', weekAxis, [
  lineSet('2017', hen2017, RED, 6), lineSet('2018', hen2018, PINK, 5), lineSet('2019', hen2019, GREY, 4),
  lineSet('2020', hen2020, BLUE, 3), lineSet('2021', hen2021, PEACH, 2), lineSet('2022', hen2022, ORANGE, 1)
]);
</script>
</body>
</html>
